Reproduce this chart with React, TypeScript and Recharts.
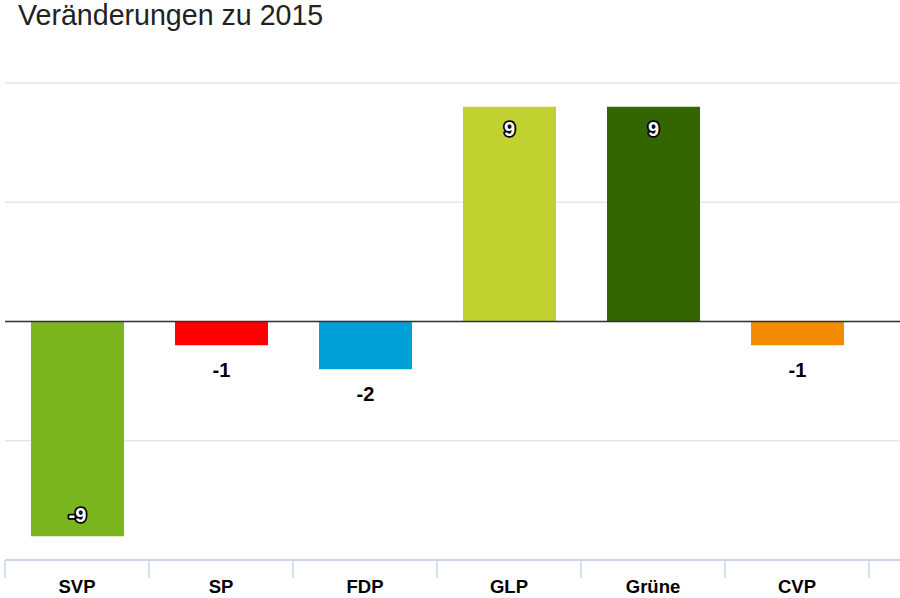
import React from 'react';
import { BarChart, Bar, XAxis, YAxis, CartesianGrid, ReferenceLine, Cell, LabelList } from 'recharts';

const parties = ['SVP', 'SP', 'FDP', 'GLP', 'Grüne', 'CVP'];
const changes = [-9, -1, -2, 9, 9, -1];
const partyColors = ['#7ab51d', '#ff0000', '#00a0d9', '#c0d130', '#336600', '#f28b00'];
const yTicks = [-10, -5, 0, 5, 10];

const data = parties.map((name, i) => ({ name, value: changes[i] }));

const FONT = '"Liberation Sans", Arial, Helvetica, sans-serif';
const CHART_W = 900;
const CHART_H = 598;

const GridLine = (props: any) => {
  const bottom = Math.abs(props.y1 - (props.y + props.height)) < 1;
  return (
    <line
      key={props.key}
      x1={props.x1}
      x2={CHART_W}
      y1={props.y1}
      y2={props.y2}
      stroke={bottom ? '#ccd6eb' : '#e6e6e6'}
      strokeWidth={bottom ? 2 : 1.5}
    />
  );
};

const ZeroLine = (props: any) => (
  <line x1={props.x1} x2={CHART_W} y1={props.y1} y2={props.y2} stroke="#333333" strokeWidth={1.5} />
);

const CategoryTick = (props: any) => {
  const { x, y, payload, index, visibleTicksCount } = props;
  const half = payload && payload.offset ? payload.offset : 72;
  const last = index === (visibleTicksCount ?? parties.length) - 1 || payload.value === parties[parties.length - 1];
  return (
    <g>
      <line x1={x - half} x2={x - half} y1={y - 8} y2={y + 10} stroke="#ccd6eb" strokeWidth={1.5} />
      {last && <line x1={x + half} x2={x + half} y1={y - 8} y2={y + 10} stroke="#ccd6eb" strokeWidth={1.5} />}
      <text x={x} y={y + 25} textAnchor="middle" fontFamily={FONT} fontWeight="bold" fontSize={18.5} fill="#000">
        {payload.value}
      </text>
    </g>
  );
};

const ValueLabel = (props: any) => {
  const { x, y, width, height, value } = props;
  const top = Math.min(y, y + height);
  const bottom = Math.max(y, y + height);
  const cx = x + width / 2;
  const text = String(value);
  if (Math.abs(value) >= 5) {
    const ty = value > 0 ? top + 29 : bottom - 14;
    return (
      <text
        x={cx}
        y={ty}
        textAnchor="middle"
        fontFamily={FONT}
        fontWeight="bold"
        fontSize={20}
        fill="#ffffff"
        stroke="#000000"
        strokeWidth={3.5}
        strokeLinejoin="round"
        paintOrder="stroke"
      >
        {text}
      </text>
    );
  }
  const ty = value < 0 ? bottom + 32 : top - 10;
  return (
    <text x={cx} y={ty} textAnchor="middle" fontFamily={FONT} fontWeight="bold" fontSize={20} fill="#000">
      {text}
    </text>
  );
};

export default function App() {
  return (
    <div style={{ position: 'absolute', left: 0, top: 0, width: CHART_W, height: CHART_H, background: '#fff' }}>
      <div
        style={{
          position: 'absolute',
          left: 18,
          top: 1,
          fontFamily: FONT,
          fontSize: 28.6,
          lineHeight: 1,
          color: '#222',
          whiteSpace: 'nowrap',
        }}
      >
        Veränderungen zu 2015
      </div>
      <BarChart
        width={CHART_W}
        height={CHART_H}
        data={data}
        margin={{ top: 83, right: 31, bottom: 0, left: 5 }}
      >
        <CartesianGrid vertical={false} horizontal={GridLine as any} />
        <XAxis
          dataKey="name"
          axisLine={false}
          tickLine={false}
          height={38}
          interval={0}
          tick={<CategoryTick />}
        />
        <YAxis hide type="number" domain={[-10, 10]} ticks={yTicks} />
        <ReferenceLine y={0} shape={ZeroLine as any} />
        <Bar dataKey="value" barSize={93} isAnimationActive={false}>
          {data.map((d, i) => (
            <Cell key={d.name} fill={partyColors[i]} />
          ))}
          <LabelList dataKey="value" content={<ValueLabel />} />
        </Bar>
      </BarChart>
    </div>
  );
}
